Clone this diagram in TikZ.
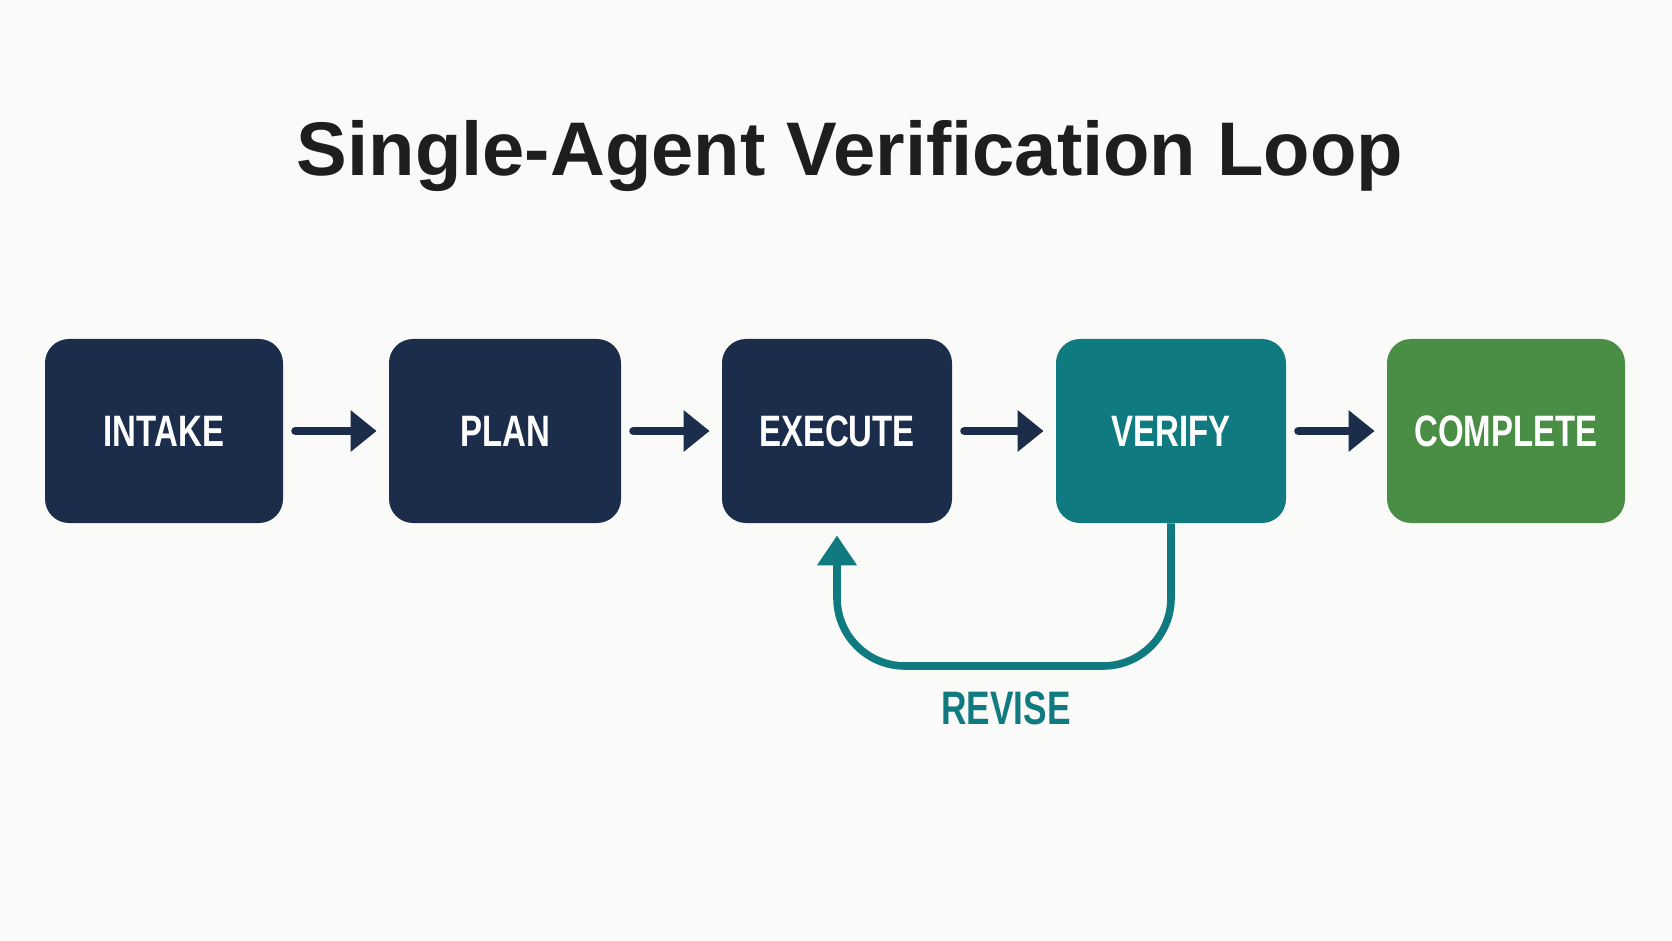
\documentclass[tikz,border=0pt]{standalone}
\usepackage{fontspec}
\setmainfont{Liberation Sans}
\newfontfamily\boxfont{Liberation Sans}[FakeStretch=0.75]
\usetikzlibrary{arrows.meta}
\definecolor{bgpaper}{HTML}{FAFAF8}
\definecolor{navy}{HTML}{1B2D4B}
\definecolor{tealbox}{HTML}{0F7B80}
\definecolor{greenbox}{HTML}{4A8D45}
\definecolor{titleink}{HTML}{1E1E1E}
\tikzstyle{stage}=[rounded corners=12pt, minimum width=116pt, minimum height=92pt,
    text=white, font=\boxfont\bfseries\fontsize{22pt}{24pt}\selectfont]
\tikzstyle{flow}=[draw=navy, line width=4.2pt, line cap=round,
    -{Triangle[length=13pt,width=20pt]}, shorten <=6pt, shorten >=6pt]
\tikzstyle{revise}=[draw=tealbox, line width=3.8pt, rounded corners=34pt,
    -{Triangle[length=15pt,width=19pt]}, shorten >=6pt]

\begin{document}
\begin{tikzpicture}[x=0.5pt, y=-0.5pt]
\fill[bgpaper] (0,0) rectangle (1672,941);
\useasboundingbox (0,0) rectangle (1672,941);
\node[text=titleink, font=\bfseries\fontsize{38pt}{40pt}\selectfont] (title) at (850,156){Single-Agent Verification Loop};
\node[stage, fill=navy, minimum width=119pt] (intake) at (164,431){INTAKE};
\node[stage, fill=navy] (plan) at (505,431){PLAN};
\node[stage, fill=navy, minimum width=115pt] (execute) at (837,431){EXECUTE};
\node[stage, fill=tealbox, minimum width=115pt] (verify) at (1171,431){VERIFY};
\node[stage, fill=greenbox, minimum width=119pt] (complete) at (1506,431){COMPLETE};
\coordinate (loopbase) at (1000,666);
\node[text=tealbox, font=\boxfont\bfseries\fontsize{23.5pt}{25pt}\selectfont] (revlabel) at (1006,708){REVISE};
\draw[flow](intake) -- (plan);
\draw[flow](plan) -- (execute);
\draw[flow](execute) -- (verify);
\draw[flow](verify) -- (complete);
\draw[revise](verify.south) -- (verify.south |- loopbase) -- (execute.south |- loopbase) -- (execute.south);
\end{tikzpicture}
\end{document}
